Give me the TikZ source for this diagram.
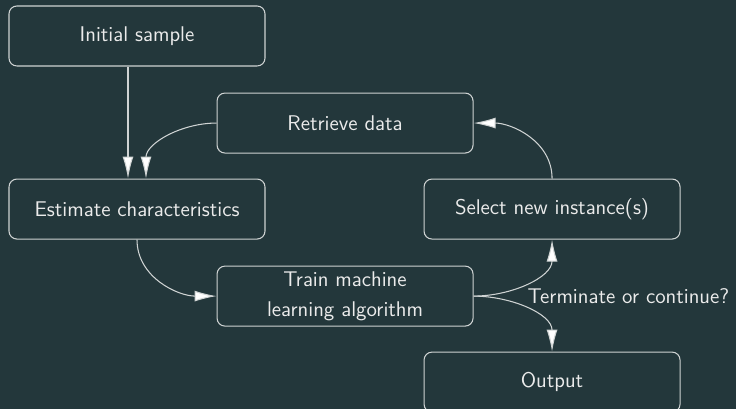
\documentclass[tikz,border=0pt]{standalone}
\usepackage{tikz}
\usetikzlibrary{arrows.meta,positioning,backgrounds}
\definecolor{bgdark}{HTML}{23373B}
\definecolor{fgtext}{HTML}{EBEBEB}
\definecolor{fgline}{HTML}{CFD3D3}
\tikzset{
  box/.style={draw=fgline, line width=0.6pt, rounded corners=4.5pt, align=center,
    minimum width=5.12cm, minimum height=1.2cm, inner sep=3pt,
    text=fgtext, font=\sffamily\fontsize{12.1}{17}\selectfont},
  lbl/.style={text=fgtext, inner sep=1pt, font=\sffamily\fontsize{12.1}{14}\selectfont},
  fl/.style={draw=fgline, line width=0.6pt, -{Latex[length=4.4mm,width=2.2mm,fill=white]}},
}
\begin{document}
\begin{tikzpicture}[node distance=2.24cm and 3.16cm]
\fill[bgdark] (-2.74,0.72) rectangle (11.98,-7.46);
\useasboundingbox (-2.74,0.72) rectangle (11.98,-7.46);
\node[box] (init) {Initial sample};
\node[box, below=of init] (est) {Estimate characteristics};
\node[box, below right=0.52cm and -0.98cm of init] (retr) {Retrieve data};
\node[box, right=of est] (sel) {Select new instance(s)};
\node[box, below right=0.52cm and -0.98cm of est] (train) {Train machine\\learning algorithm};
\node[box, below=of sel] (out) {Output};
\node[lbl, anchor=west] (term) at ([xshift=1.04cm]train.east) {Terminate or continue?};
% into the estimate step
\draw[fl] ([xshift=-0.18cm]init.south) -- ([xshift=-0.18cm]est.north);
\draw[fl] (retr.west) to[out=180,in=90] ([xshift=0.18cm]est.north);
% the learning loop
\draw[fl] (est.south) to[out=-90,in=180] (train.west);
\draw[fl] (train.east) to[out=0,in=-90] (sel.south);
\draw[fl] (sel.north) to[out=90,in=0] (retr.east);
% stop
\draw[fl] (train.east) to[out=0,in=90] (out.north);
\end{tikzpicture}
\end{document}
